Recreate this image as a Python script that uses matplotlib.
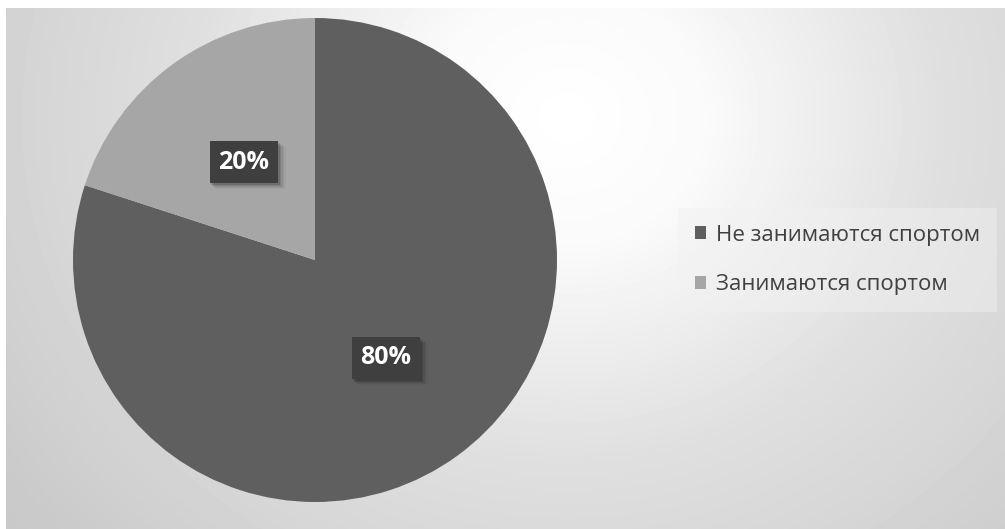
import numpy as np
import matplotlib
matplotlib.use("Agg")
import matplotlib.pyplot as plt
from matplotlib.patches import Patch, Rectangle
from matplotlib.transforms import IdentityTransform

# share of respondents
categories = ["Не занимаются спортом", "Занимаются спортом"]
shares = [80, 20]
slice_colors = ["#5f5f5f", "#a6a6a6"]

W, H = 1005, 529
fig = plt.figure(figsize=(W / 100, H / 100), dpi=100, facecolor="white")

# soft radial backdrop behind the chart
bg = fig.add_axes([6 / W, 0, (W - 6) / W, (H - 8) / H])
yy, xx = np.mgrid[0:H - 8, 0:W - 6]
dist = np.hypot(xx - 560, (yy - 110) * 1.1)
shade = np.interp(dist, [0, 140, 380, 520, 680, 820], [255, 250, 223, 214, 202, 197]) / 255
bg.imshow(shade, cmap="gray", vmin=0, vmax=1, aspect="auto", interpolation="bilinear")
bg.axis("off")

cx, cy, r = 315, 260, 242
ax = fig.add_axes([(cx - r) / W, (H - cy - r) / H, 2 * r / W, 2 * r / H])
ax.set_facecolor("none")

wedges, _, autotexts = ax.pie(
    shares,
    colors=slice_colors,
    startangle=90,
    counterclock=False,
    radius=1,
    autopct=lambda p: f"{p:.0f}%",
    pctdistance=0.5,
    wedgeprops={"linewidth": 0},
    textprops={"color": "white", "fontsize": 18, "fontweight": "bold", "family": "Open Sans"},
)
ax.set_xlim(-1, 1)
ax.set_ylim(-1, 1)
ax.set_aspect("equal")
ax.axis("off")

# dark label boxes with a faint drop shadow
for t in autotexts:
    t.set_bbox({"boxstyle": "square,pad=0.35", "facecolor": "#3f3f3f", "edgecolor": "none"})
    t.set_zorder(6)
fig.canvas.draw()
renderer = fig.canvas.get_renderer()
for t in autotexts:
    bb = t.get_bbox_patch().get_window_extent(renderer)
    for k, a in zip(range(1, 6), [0.12, 0.09, 0.07, 0.05, 0.03]):
        ax.add_patch(Rectangle(
            (bb.x0 + k, bb.y0 - k - 1), bb.width + k * 0.5, bb.height,
            transform=IdentityTransform(), facecolor="black", alpha=a,
            edgecolor="none", zorder=5))

handles = [Patch(facecolor=c, edgecolor="none") for c in slice_colors]
leg = fig.legend(
    handles,
    categories,
    loc="center left",
    bbox_to_anchor=(678 / W, 1 - 260 / H),
    frameon=True,
    fancybox=False,
    framealpha=0.45,
    facecolor="#f2f2f2",
    edgecolor="none",
    handlelength=0.5,
    handleheight=0.5,
    handletextpad=0.45,
    labelspacing=1.3,
    borderpad=0.75,
    borderaxespad=0,
    prop={"family": "Open Sans", "size": 16},
)
for txt in leg.get_texts():
    txt.set_color("#404040")

fig.savefig("out.png", dpi=100, facecolor="white")
